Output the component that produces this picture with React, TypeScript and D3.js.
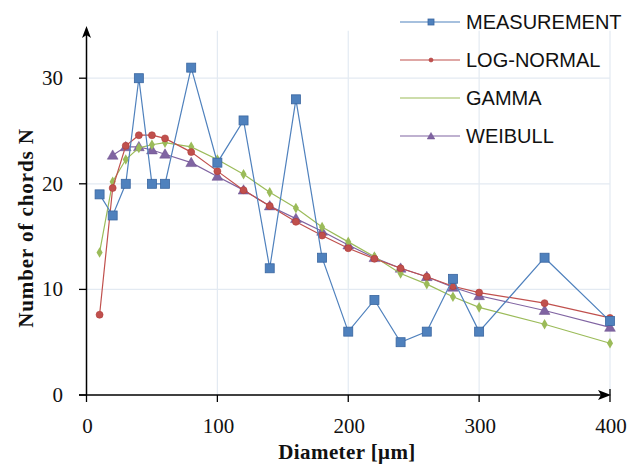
import React from "react";
import * as d3 from "d3";

const diameters = [10, 20, 30, 40, 50, 60, 80, 100, 120, 140, 160, 180, 200, 220, 240, 260, 280, 300, 350, 400];
const measurement = [19, 17, 20, 30, 20, 20, 31, 22, 26, 12, 28, 13, 6, 9, 5, 6, 11, 6, 13, 7];
const logNormal = [7.6, 19.6, 23.6, 24.6, 24.6, 24.3, 23.0, 21.2, 19.4, 17.9, 16.4, 15.1, 13.9, 12.9, 12.0, 11.2, 10.3, 9.7, 8.7, 7.3];
const gamma = [13.5, 20.2, 22.3, 23.4, 23.7, 23.9, 23.5, 22.3, 20.9, 19.2, 17.7, 15.9, 14.5, 13.1, 11.5, 10.5, 9.3, 8.3, 6.7, 4.9];
const weibull = [null, 22.7, 23.5, 23.5, 23.2, 22.8, 22.0, 20.7, 19.4, 17.9, 16.7, 15.5, 14.2, 13.0, 12.0, 11.2, 10.2, 9.4, 8.0, 6.4];
const seriesNames = ["MEASUREMENT", "LOG-NORMAL", "GAMMA", "WEIBULL"];
const seriesColors = ["#4F81BD", "#C0504D", "#9BBB59", "#8064A2"];
const xTicks = [0, 100, 200, 300, 400];
const yTicks = [0, 10, 20, 30];

const W = 644, H = 465;
const x = d3.scaleLinear().domain([0, 400]).range([86.5, 610]);
const y = d3.scaleLinear().domain([0, 10]).range([395, 289.4]);

function marker(kind: string, cx: number, cy: number, color: string, s: number, key: any) {
  if (kind === "square") {
    return <rect key={key} x={cx - s / 2} y={cy - s / 2} width={s} height={s} fill={color} stroke="#3A66A0" strokeWidth={0.8} />;
  }
  if (kind === "circle") {
    return <circle key={key} cx={cx} cy={cy} r={s / 2} fill={color} stroke="#B03A37" strokeWidth={0.6} />;
  }
  if (kind === "diamond") {
    const p = d3.symbol().type(d3.symbolDiamond).size(s * s * 0.9)();
    return <path key={key} d={p!} transform={`translate(${cx},${cy})`} fill={color} />;
  }
  const p = d3.symbol().type(d3.symbolTriangle).size(s * s * 0.5)();
  return <path key={key} d={p!} transform={`translate(${cx},${cy + 0.8})`} fill={color} stroke="#6A4F8C" strokeWidth={0.5} />;
}

export default function App() {
  const all = [measurement, logNormal, gamma, weibull];
  const kinds = ["square", "circle", "diamond", "triangle"];
  const sizes = [9, 7, 6, 10];
  const lineGen = d3
    .line<[number, number | null]>()
    .defined((d) => d[1] != null)
    .x((d) => x(d[0]))
    .y((d) => y(d[1] as number));

  const drawOrder = [3, 2, 1, 0];
  const legendRows = [22, 60, 98, 136];

  return (
    <svg width={W} height={H} style={{ position: "absolute", left: 0, top: 0, background: "#fff" }}>
      {/* grid */}
      {yTicks.filter((t) => t > 0).map((t) => (
        <line key={"gy" + t} x1={x(0)} x2={x(400)} y1={y(t)} y2={y(t)} stroke="#E3EAF2" strokeWidth={1.2} />
      ))}
      {xTicks.filter((t) => t > 0).map((t) => (
        <line key={"gx" + t} x1={x(t)} x2={x(t)} y1={y(0)} y2={y(34.5)} stroke="#E3EAF2" strokeWidth={1.2} />
      ))}

      {/* series */}
      {drawOrder.map((si) => {
        const pts: [number, number | null][] = diameters.map((d, i) => [d, all[si][i] as number | null]);
        return (
          <g key={"s" + si}>
            <path d={lineGen(pts)!} fill="none" stroke={seriesColors[si]} strokeWidth={1.2} />
            {pts.filter((p) => p[1] != null).map((p, i) => marker(kinds[si], x(p[0]), y(p[1] as number), seriesColors[si], sizes[si], i))}
          </g>
        );
      })}

      {/* axes */}
      <line x1={86.5} x2={86.5} y1={395} y2={32} stroke="#000" strokeWidth={1.5} />
      <path d="M86.5,26 L82,38 L86.5,35 L91,38 Z" fill="#000" />
      <line x1={79} x2={606} y1={395} y2={395} stroke="#000" strokeWidth={1.5} />
      <path d="M611,395 L598,390 L601,395 L598,400 Z" fill="#000" />
      {yTicks.map((t) => (
        <g key={"yt" + t}>
          <line x1={79} x2={86.5} y1={y(t)} y2={y(t)} stroke="#000" strokeWidth={1.3} />
          <text x={63} y={y(t) + 7} textAnchor="end" fontFamily="Liberation Serif" fontSize={21} fill="#111">{t}</text>
        </g>
      ))}
      {xTicks.map((t) => (
        <g key={"xt" + t}>
          <line x1={x(t)} x2={x(t)} y1={t === 400 ? 389 : 395} y2={402} stroke="#000" strokeWidth={1.3} />
          <text x={x(t) + 1} y={433} textAnchor="middle" fontFamily="Liberation Serif" fontSize={21} fill="#111">{t}</text>
        </g>
      ))}
      <text x={347} y={459} textAnchor="middle" fontFamily="Liberation Serif" fontWeight="bold" fontSize={21} letterSpacing={0.4} fill="#111">Diameter [μm]</text>
      <text transform="translate(33,228) rotate(-90)" textAnchor="middle" fontFamily="Liberation Serif" fontWeight="bold" fontSize={21} letterSpacing={0.9} fill="#111">Number of chords N</text>

      {/* legend */}
      {seriesNames.map((n, i) => (
        <g key={"lg" + i}>
          <line x1={400} x2={460} y1={legendRows[i]} y2={legendRows[i]} stroke={seriesColors[i]} strokeWidth={1.2} />
          {i === 0 && marker("square", 431, legendRows[i], seriesColors[i], 6, "m")}
          {i === 1 && marker("circle", 431, legendRows[i], seriesColors[i], 4, "m")}
          {i === 3 && marker("triangle", 431, legendRows[i], seriesColors[i], 7, "m")}
          <text x={466} y={legendRows[i] + 7} fontFamily="Liberation Sans" fontSize={20} fill="#111">{n}</text>
        </g>
      ))}
    </svg>
  );
}
